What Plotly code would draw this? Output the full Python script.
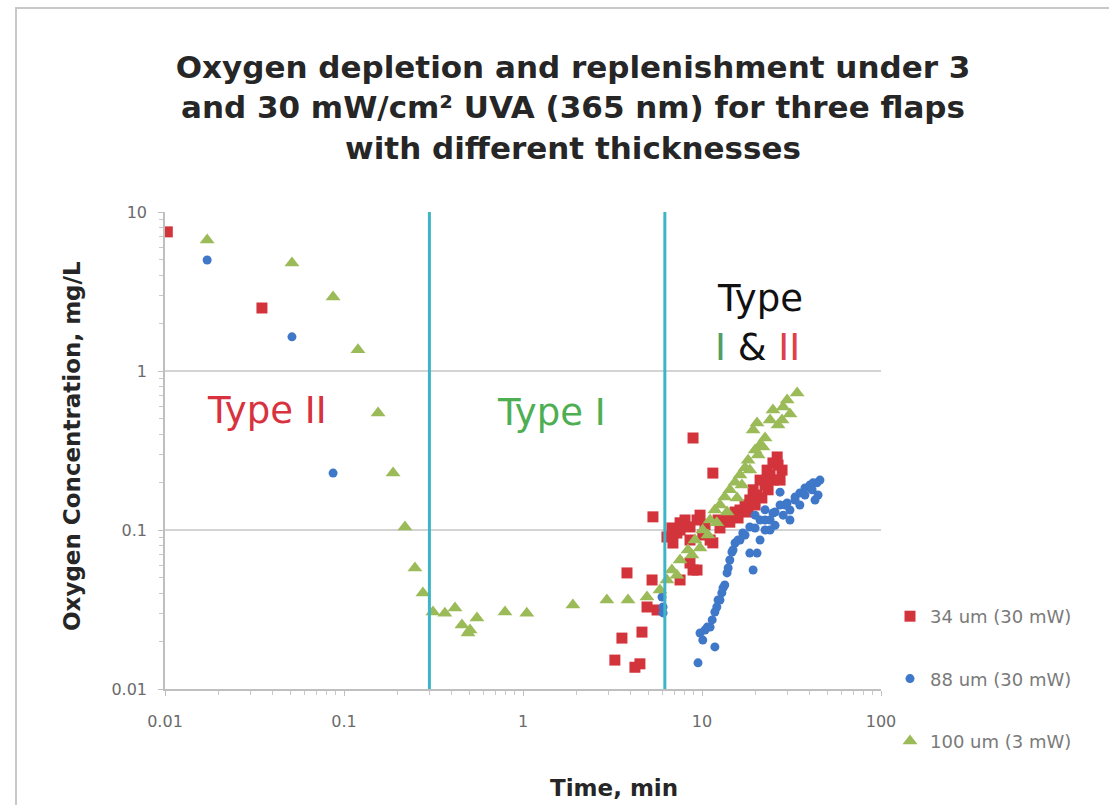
import plotly.graph_objects as go

# ---------------- data ----------------
red_x = [0.0103, 0.0348,
         5.32, 3.81, 5.26, 4.93, 5.61, 4.62, 3.57, 3.26, 4.22, 4.5,
         8.91, 11.5,
         6.37, 6.88, 7.54, 7.54, 7.24, 7.54, 8.91, 9.38, 9.38, 8.57, 10.4, 11.1,
         12.3, 13.8, 15.3, 16.3, 17.4, 18.5, 19.3, 20.3, 21.1, 22.5, 23.1, 24.0,
         24.9, 26.3, 26.6, 27.3, 28.0, 8.57, 11.5,
         6.79, 8.04, 9.75, 8.57, 10.1, 12.6, 14.3, 15.9, 18.1, 19.8, 21.6, 23.4, 24.9]
red_y = [7.5, 2.49,
         0.121, 0.0537, 0.0485, 0.0328, 0.0314, 0.0228, 0.0209, 0.0152, 0.0137, 0.0144,
         0.379, 0.228,
         0.0904, 0.0828, 0.100, 0.111, 0.0957, 0.0485, 0.056, 0.056, 0.1156, 0.1045, 0.108, 0.0865,
         0.1156, 0.1156, 0.1297, 0.1336, 0.1437, 0.1545, 0.179, 0.166, 0.206, 0.192, 0.238, 0.222,
         0.264, 0.288, 0.256, 0.206, 0.238, 0.062, 0.083,
         0.103, 0.1156, 0.124, 0.0865, 0.093, 0.103, 0.112, 0.119, 0.1297, 0.1437, 0.159, 0.179, 0.206]

blue_x = [0.0172, 0.0512, 0.0869,
          5.98, 6.06, 6.06,
          9.5, 11.8, 9.75, 10.7, 11.1, 11.4, 12.1, 12.6, 12.9, 13.4, 13.8, 14.3, 14.7,
          15.3, 16.3, 16.9, 18.5, 18.5, 19.3, 20.3, 21.1, 21.1, 22.5, 24.0, 24.9, 25.6,
          27.3, 28.4, 29.9, 31.0, 33.1, 35.2, 35.2, 37.6, 40.1, 41.7, 43.9, 44.5, 42.8,
          22.5, 19.8,
          10.1, 10.4, 11.8, 12.3, 13.1, 14.0, 14.9, 15.9, 17.4, 19.8, 22.5, 25.6, 29.1,
          33.1, 37.6, 41.2, 45.6, 24.0, 31.0, 27.3]
blue_y = [4.99, 1.64, 0.228,
          0.0379, 0.0328, 0.0301,
          0.0146, 0.0184, 0.0225, 0.0245, 0.0245, 0.0272, 0.0328, 0.0363, 0.0402, 0.0451, 0.0537, 0.0648, 0.0727,
          0.0828, 0.0865, 0.0957, 0.1045, 0.0716, 0.056, 0.0716, 0.1156, 0.0865, 0.100, 0.1156, 0.128, 0.107,
          0.1437, 0.124, 0.148, 0.1336, 0.161, 0.171, 0.1437, 0.184, 0.192, 0.198, 0.198, 0.166, 0.1545,
          0.134, 0.124,
          0.0203, 0.0235, 0.0305, 0.0363, 0.0432, 0.0577, 0.0748, 0.0865, 0.093, 0.103, 0.1156, 0.1297, 0.1437,
          0.1545, 0.166, 0.179, 0.206, 0.100, 0.1156, 0.173]

green_x = [0.0172, 0.0512, 0.0869, 0.1197, 0.155, 0.188, 0.219, 0.249, 0.276, 0.314,
           0.366, 0.417, 0.456, 0.493, 0.506, 0.553, 0.793, 1.05, 1.90, 2.94, 3.86, 4.93,
           5.82, 6.37, 6.79, 7.54, 8.35, 9.14, 10.1, 11.1, 11.8, 12.6, 13.4, 14.3, 15.3,
           16.3, 17.4, 18.1, 19.3, 19.8, 21.1, 22.5, 24.0, 24.9, 26.6, 28.4, 29.9, 34.0, 20.3,
           7.24, 8.79, 9.75, 10.8, 12.1, 13.8, 15.7, 16.7, 18.5, 20.6, 21.9, 31.0, 28.0]
green_y = [6.67, 4.77, 2.92, 1.36, 0.544, 0.228, 0.1045, 0.0577, 0.0402, 0.0305,
           0.030, 0.0323, 0.0253, 0.0225, 0.0235, 0.028, 0.0305, 0.030, 0.0337, 0.0363, 0.0363, 0.0379,
           0.042, 0.0485, 0.056, 0.0648, 0.0748, 0.0865, 0.100, 0.1156, 0.1336, 0.1437, 0.161, 0.179, 0.200,
           0.222, 0.246, 0.275, 0.426, 0.318, 0.343, 0.379, 0.492, 0.569, 0.457, 0.594, 0.658, 0.728, 0.471,
           0.052, 0.0697, 0.077, 0.093, 0.111, 0.1297, 0.159, 0.192, 0.238, 0.296, 0.333, 0.537, 0.492]

series_names = ["34 um (30 mW)", "88 um (30 mW)", "100 um (3 mW)"]
boundary_times = [0.30, 6.2]

x_tick_vals = [0.01, 0.1, 1, 10, 100]
x_tick_text = ["0.01", "0.1", "1", "10", "100"]
y_tick_vals = [0.01, 0.1, 1, 10]
y_tick_text = ["0.01", "0.1", "1", "10"]

# minor (unlabelled) log ticks 2..9 in each decade
x_minor = [m * d for d in (0.01, 0.1, 1, 10) for m in range(2, 10)]
y_minor = [m * d for d in (0.01, 0.1, 1) for m in range(2, 10)]

# ---------------- layout geometry (pixels) ----------------
W, H = 1109, 805
L, R, T, B = 165, 881, 212, 689


def pxx(x):
    return (x - L) / (R - L)


def pxy(y):
    return (B - y) / (B - T)


RED = "#D3343C"
BLUE = "#3F78C8"
GREEN = "#9BBB59"
CYAN = "#3DB5C6"
GRAY_TXT = "#6B6B6B"

fig = go.Figure()
fig.add_trace(go.Scatter(x=red_x, y=red_y, mode="markers", name=series_names[0],
                         legendgroup="a",
                         marker=dict(symbol="square", size=11, color=RED)))
fig.add_trace(go.Scatter(x=blue_x, y=blue_y, mode="markers", name=series_names[1],
                         legendgroup="b",
                         marker=dict(symbol="circle", size=9, color=BLUE)))
fig.add_trace(go.Scatter(x=green_x, y=green_y, mode="markers", name=series_names[2],
                         legendgroup="c",
                         marker=dict(symbol="triangle-up", size=13, color=GREEN)))

shapes = []
for t in boundary_times:
    shapes.append(dict(type="line", xref="x", yref="paper", x0=t, x1=t, y0=0, y1=1,
                       line=dict(color=CYAN, width=3), layer="above"))
# outer frame (left and top edges visible)
shapes.append(dict(type="rect", xref="paper", yref="paper",
                   x0=pxx(16), x1=pxx(1130), y0=pxy(830), y1=pxy(8),
                   line=dict(color="#C8C8C8", width=2), layer="below"))

big = dict(family="DejaVu Sans", size=37)
annotations = [
    dict(text="<span style='color:#D8323E'>Type II</span>", x=pxx(267), y=pxy(410),
         xref="paper", yref="paper", showarrow=False, font=big,
         xanchor="center", yanchor="middle"),
    dict(text="<span style='color:#4DAE52'>Type I</span>", x=pxx(551), y=pxy(412),
         xref="paper", yref="paper", showarrow=False, font=big,
         xanchor="center", yanchor="middle"),
    dict(text="<span style='color:#111111'>Type</span>", x=pxx(760), y=pxy(298),
         xref="paper", yref="paper", showarrow=False, font=big,
         xanchor="center", yanchor="middle"),
    dict(text="<span style='color:#4E9E66'>I</span> <span style='color:#111111'>&amp;</span> "
              "<span style='color:#E0404A'>II</span>",
         x=pxx(757), y=pxy(347), xref="paper", yref="paper", showarrow=False, font=big,
         xanchor="center", yanchor="middle"),
    dict(text="<b>Oxygen Concentration, mg/L</b>", x=pxx(72), y=pxy(446),
         xref="paper", yref="paper", showarrow=False, textangle=-90,
         font=dict(family="DejaVu Sans", size=23, color="#262626"),
         xanchor="center", yanchor="middle"),
    dict(text="<b>Time, min</b>", x=pxx(614), y=pxy(788),
         xref="paper", yref="paper", showarrow=False,
         font=dict(family="DejaVu Sans", size=23, color="#262626"),
         xanchor="center", yanchor="middle"),
]

fig.update_layout(
    width=W, height=H, autosize=False,
    margin=dict(l=L, r=W - R, t=T, b=H - B, pad=0),
    paper_bgcolor="white", plot_bgcolor="white",
    title=dict(text="<b>Oxygen depletion and replenishment under 3<br>"
                    "and 30 mW/cm² UVA (365 nm) for three flaps<br>"
                    "with different thicknesses</b>",
               x=573 / W, xanchor="center", xref="container",
               y=1 - 78 / H, yanchor="top", yref="container",
               font=dict(family="DejaVu Sans", size=31, color="#262626")),
    xaxis=dict(type="log", range=[-2, 2], tickvals=x_tick_vals, ticktext=x_tick_text,
               showgrid=False, zeroline=False, showline=True, linecolor="#BFBFBF", linewidth=1.5,
               ticks="outside", ticklen=5, tickcolor="#BFBFBF", ticklabelstandoff=12,
               tickfont=dict(family="DejaVu Sans", size=16, color=GRAY_TXT),
               minor=dict(tickvals=x_minor, ticks="outside", ticklen=4, tickcolor="#C8C8C8",
                          showgrid=False)),
    yaxis=dict(type="log", range=[-2, 1], tickvals=y_tick_vals, ticktext=y_tick_text,
               showgrid=True, gridcolor="#D4D4D4", gridwidth=1.5,
               zeroline=False, showline=True, linecolor="#BFBFBF", linewidth=1.5,
               ticks="outside", ticklen=5, tickcolor="#BFBFBF", ticklabelstandoff=8,
               tickfont=dict(family="DejaVu Sans", size=16, color=GRAY_TXT),
               minor=dict(tickvals=y_minor, ticks="outside", ticklen=4, tickcolor="#C8C8C8",
                          showgrid=False)),
    legend=dict(x=pxx(890), xanchor="left", y=pxy(598), yanchor="top",
                font=dict(family="DejaVu Sans", size=18, color="#7A7A7A"),
                tracegroupgap=36, bgcolor="rgba(0,0,0,0)"),
    shapes=shapes,
    annotations=annotations,
)

fig.write_html("out.html")
